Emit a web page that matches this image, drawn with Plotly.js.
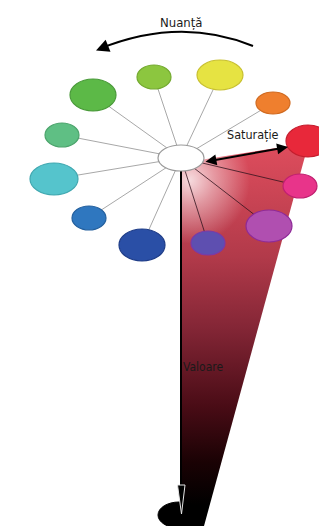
<!DOCTYPE html>
<html><head><meta charset="utf-8">
<script src="https://cdn.plot.ly/plotly-3.0.1.min.js"></script>
<style>html,body{margin:0;padding:0;background:#fff}#chart{width:319px;height:526px}</style>
</head><body><div id="chart"></div>
<script>
// Hue wheel (HSV model): one ellipse per hue
const hueNames  = ['Roșu','Portocaliu','Galben','Verde-gălbui','Verde','Verde-turcoaz','Cyan','Albastru','Albastru închis','Indigo','Violet','Roz'];
const hueX      = [308, 273, 220, 154,  93,  62,  54,  89, 142, 208, 269, 300];
const hueY      = [141, 103,  75,  77,  95, 135, 179, 218, 245, 243, 226, 186];
const hueRX     = [ 22,  17,  23,  17,  23,  17,  24,  17,  23,  17,  23,  17];
const hueRY     = [ 16,  11,  15,  12,  16,  12,  16,  12,  16,  12,  16,  12];
const hueFill   = ['#e8283a','#ef7f2e','#e6e342','#8cc63f','#5cb947','#5fbf84','#55c4cc','#2f77bf','#2a4fa6','#5e4fb0','#b04fb0','#e8348a'];
const hueEdge   = ['#c41e2e','#d06a20','#c8c030','#74aa30','#4a9a3a','#4ca46c','#40a8b0','#24609e','#1f3d88','#7a3aa8','#8e2a98','#c02070'];
const inCone    = [false,false,false,false,false,false,false,false,false,true,true,true];

// Centre (white, S=0) and bottom (black, V=0)
const centre    = {x:181, y:158, rx:23, ry:13};
const bottom    = {x:179, y:515, rx:21, ry:13};

// Value cone outline
const coneX = [181, 200, 295, 307, 204, 181, 181];
const coneY = [165, 160, 145, 149, 526, 526, 165];

// Labels
const labels = [
  {text:'Nuanță',   x:181, y:22,  size:13},
  {text:'Saturație',x:253, y:134, size:12.5},
  {text:'Valoare',  x:203, y:367, size:12}
];

const FONT = '"Liberation Sans Narrow","DejaVu Sans Condensed","Roboto Condensed",sans-serif';

const traces = [];
// cone with vertical gradient (light red -> black)
traces.push({type:'scatter', mode:'lines', x:coneX, y:coneY, fill:'toself', line:{width:0},
  fillgradient:{type:'vertical', start:150, stop:505,
    colorscale:[[0,'#dc4c5c'],[0.3,'#b23a4a'],[0.5,'#842636'],[0.72,'#4a0c16'],[0.88,'#1a0204'],[1,'#000000']]},
  hoverinfo:'skip', showlegend:false});
// whitish glow near the centre (white on white background is invisible outside the cone)
traces.push({type:'scatter', mode:'lines', x:[110,270,270,110,110], y:[95,95,265,265,95], fill:'toself', line:{width:0},
  fillgradient:{type:'radial', colorscale:[[0,'rgba(255,255,255,0.8)'],[0.3,'rgba(255,255,255,0.45)'],[0.75,'rgba(255,255,255,0)'],[1,'rgba(255,255,255,0)']]},
  hoverinfo:'skip', showlegend:false});
// spokes
const spX=[], spY=[], spDX=[], spDY=[];
hueX.forEach((x,i)=>{ if(i===0) return; const tx = inCone[i]?spDX:spX, ty = inCone[i]?spDY:spY; tx.push(centre.x,x,null); ty.push(centre.y,hueY[i],null); });
traces.push({type:'scatter', mode:'lines', x:spX, y:spY, line:{color:'#a8a8a8', width:1}, hoverinfo:'skip', showlegend:false});
traces.push({type:'scatter', mode:'lines', x:spDX, y:spDY, line:{color:'rgba(50,20,30,0.8)', width:1}, hoverinfo:'skip', showlegend:false});
// value axis line
traces.push({type:'scatter', mode:'lines', x:[centre.x, centre.x], y:[centre.y+12, 488], line:{color:'#000', width:2}, hoverinfo:'skip', showlegend:false});

const shapes = [];
hueX.forEach((x,i)=>{
  shapes.push({type:'circle', xref:'x', yref:'y', x0:x-hueRX[i], x1:x+hueRX[i], y0:hueY[i]-hueRY[i], y1:hueY[i]+hueRY[i],
    fillcolor:hueFill[i], line:{color:hueEdge[i], width:1.2}});
});
shapes.push({type:'circle', xref:'x', yref:'y', x0:centre.x-centre.rx, x1:centre.x+centre.rx, y0:centre.y-centre.ry, y1:centre.y+centre.ry,
  fillcolor:'#ffffff', line:{color:'#9a9a9a', width:1.2}});
shapes.push({type:'circle', xref:'x', yref:'y', x0:bottom.x-bottom.rx, x1:bottom.x+bottom.rx, y0:bottom.y-bottom.ry, y1:bottom.y+bottom.ry,
  fillcolor:'#000000', line:{color:'#000', width:1}});
// hue arc
shapes.push({type:'path', xref:'x', yref:'y', path:'M253,46 Q180,16 99,49', line:{color:'#000', width:2}});
// value arrowhead (black with light outline)
shapes.push({type:'path', xref:'x', yref:'y', path:'M177.5,485 L185,485 L181.5,514 Z', fillcolor:'#000', line:{color:'#e6e6e6', width:1}});

const annotations = labels.map(l=>({text:l.text, x:l.x, y:l.y, xref:'x', yref:'y', showarrow:false,
  font:{family:FONT, size:l.size, color:'#1a1a1a'}}));
// hue arrowhead
annotations.push({x:96, y:50.5, ax:106, ay:46.5, xref:'x', yref:'y', axref:'x', ayref:'y', text:'', showarrow:true,
  arrowhead:2, arrowsize:1.3, arrowwidth:2, arrowcolor:'#000'});
// saturation double arrow
annotations.push({x:288, y:147, ax:204, ay:162, xref:'x', yref:'y', axref:'x', ayref:'y', text:'', showarrow:true,
  arrowhead:2, startarrowhead:2, arrowside:'end+start', arrowsize:1.1, arrowwidth:2, arrowcolor:'#000'});

const layout = {
  width:319, height:526, margin:{l:0,r:0,t:0,b:0}, paper_bgcolor:'#fff', plot_bgcolor:'#fff',
  xaxis:{range:[0,319], visible:false, fixedrange:true},
  yaxis:{range:[526,0], visible:false, fixedrange:true},
  shapes, annotations, showlegend:false
};
Plotly.newPlot('chart', traces, layout, {staticPlot:true, displayModeBar:false});
</script></body></html>
